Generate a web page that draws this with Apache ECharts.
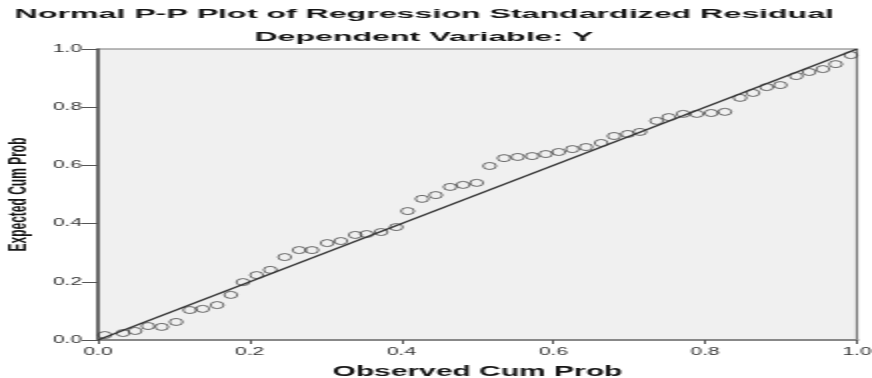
<!DOCTYPE html>
<html>
<head>
<meta charset="utf-8">
<script src="https://cdn.jsdelivr.net/npm/echarts@6/dist/echarts.min.js"></script>
<style>
html,body{margin:0;padding:0;background:#fff;overflow:hidden;}
#c{width:436px;height:378px;transform:scaleX(2);transform-origin:0 0;}
</style>
</head>
<body>
<div id="c"></div>
<script>
// Observed cumulative probability (x) and expected cumulative probability (y)
const xObs = [0.009,0.033,0.049,0.066,0.084,0.103,0.121,0.138,0.157,0.175,
              0.191,0.209,0.227,0.246,0.265,0.282,0.302,0.320,0.339,0.354,
              0.373,0.393,0.408,0.427,0.445,0.464,0.481,0.499,0.516,0.535,
              0.553,0.572,0.590,0.607,0.625,0.643,0.663,0.680,0.698,0.714,
              0.736,0.752,0.771,0.789,0.808,0.826,0.846,0.863,0.881,0.899,
              0.920,0.937,0.955,0.972,0.992];
const yExp = [0.017,0.024,0.031,0.048,0.045,0.062,0.103,0.107,0.120,0.155,
              0.199,0.223,0.241,0.285,0.309,0.309,0.333,0.340,0.361,0.364,
              0.371,0.388,0.443,0.485,0.498,0.526,0.533,0.540,0.598,0.625,
              0.629,0.632,0.639,0.646,0.656,0.663,0.677,0.701,0.708,0.715,
              0.753,0.766,0.777,0.777,0.780,0.784,0.832,0.849,0.869,0.876,
              0.907,0.921,0.931,0.948,0.979];
const refLine = [[0, 0], [1, 1]];
const tickLabels = ['0.0', '0.2', '0.4', '0.6', '0.8', '1.0'];
const titleText = 'Normal P-P Plot of Regression Standardized Residual';
const subtitleText = 'Dependent Variable: Y';
const xName = 'Observed Cum Prob';
const yName = 'Expected Cum Prob';

const FONT = 'Liberation Sans, Arial, sans-serif';
const fmt = v => tickLabels[Math.round(v / 0.2)];

const chart = echarts.init(document.getElementById('c'), null, {renderer: 'canvas'});
chart.setOption({
  animation: false,
  backgroundColor: '#ffffff',
  graphic: [
    {type: 'text', x: 212.2, y: 14.5, scaleX: 1.19,
     style: {text: titleText, fontSize: 13.5, fontWeight: 'bold', fontFamily: FONT, fill: '#151515', align: 'center', verticalAlign: 'middle'}},
    {type: 'text', x: 212, y: 37.5, scaleX: 1.19,
     style: {text: subtitleText, fontSize: 13.5, fontWeight: 'bold', fontFamily: FONT, fill: '#151515', align: 'center', verticalAlign: 'middle'}}
  ],
  grid: {left: 49, right: 7.5, top: 49, bottom: 38, outerBoundsMode: 'none', containLabel: false,
         show: true, backgroundColor: '#f0f0f0', borderColor: '#777', borderWidth: 1.2},
  xAxis: {
    type: 'value', min: 0, max: 1, interval: 0.2,
    name: xName, nameLocation: 'middle', nameGap: 24,
    nameTextStyle: {fontSize: 15, fontWeight: 'bold', color: '#151515', fontFamily: FONT},
    axisLine: {show: true, lineStyle: {color: '#888', width: 2}},
    axisTick: {show: true, length: 4, lineStyle: {color: '#555', width: 1}},
    axisLabel: {fontSize: 10.5, color: '#333', margin: 7, fontFamily: FONT, formatter: fmt},
    splitLine: {show: false}
  },
  yAxis: {
    type: 'value', min: 0, max: 1, interval: 0.2,
    name: yName, nameLocation: 'middle', nameGap: 31.5,
    nameTextStyle: {fontSize: 12, fontWeight: 'bold', color: '#151515', fontFamily: FONT},
    axisLine: {show: true, lineStyle: {color: '#555', width: 1.5}},
    axisTick: {show: true, length: 8, lineStyle: {color: '#555', width: 1}},
    axisLabel: {fontSize: 10.5, color: '#333', margin: 8, fontFamily: FONT, formatter: fmt},
    splitLine: {show: false}
  },
  series: [
    {type: 'line', data: refLine, symbol: 'none', silent: true, z: 2,
     lineStyle: {color: '#333', width: 1.4}},
    {type: 'scatter', data: xObs.map((x, i) => [x, yExp[i]]), symbol: 'circle', symbolSize: [6.5, 7], z: 3,
     itemStyle: {color: 'rgba(0,0,0,0)', borderColor: '#333', borderWidth: 0.9}}
  ]
});
</script>
</body>
</html>
